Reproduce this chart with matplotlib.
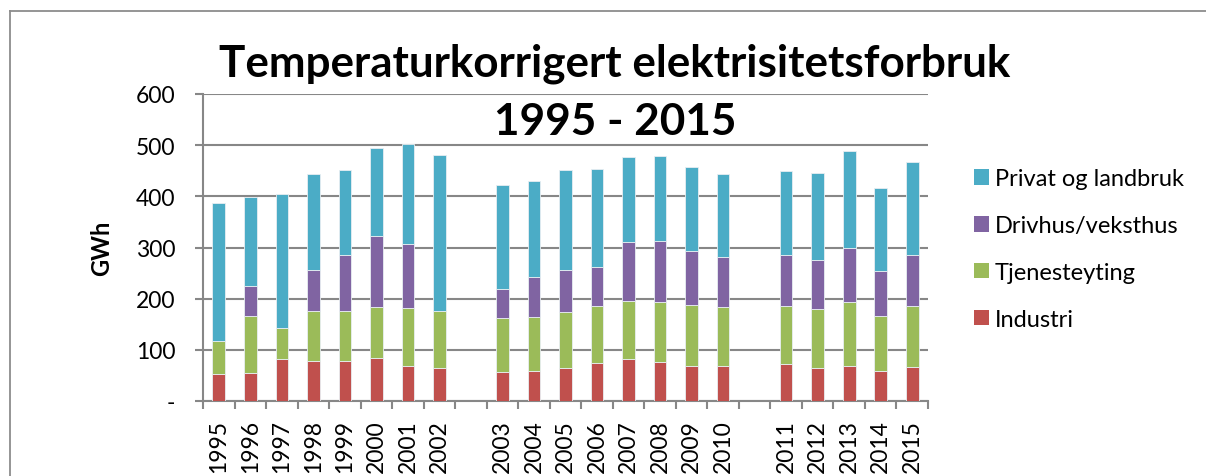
import numpy as np
import matplotlib
matplotlib.use("Agg")
import matplotlib.pyplot as plt
from matplotlib.lines import Line2D
from matplotlib.patches import Patch

plt.rcParams['font.family'] = ['Lato', 'DejaVu Sans']

# ---- data (GWh) ; None = empty gap slot in the category axis ----
categories = ['1995', '1996', '1997', '1998', '1999', '2000', '2001', '2002', '',
              '2003', '2004', '2005', '2006', '2007', '2008', '2009', '2010', '',
              '2011', '2012', '2013', '2014', '2015']
industri = [52, 54, 82, 79, 79, 85, 68, 65, None,
            57, 58, 65, 75, 82, 77, 68, 68, None,
            72, 64, 69, 59, 67]
tjenesteyting = [66, 112, 60, 97, 97, 98, 114, 111, None,
                 106, 106, 109, 110, 113, 117, 120, 115, None,
                 114, 115, 125, 108, 119]
drivhus = [0, 58, 0, 80, 110, 140, 124, 0, None,
           55, 78, 83, 76, 116, 118, 105, 98, None,
           100, 97, 105, 88, 100]
privat = [268, 175, 263, 188, 166, 171, 196, 304, None,
          204, 187, 194, 193, 166, 167, 165, 163, None,
          163, 170, 189, 161, 181]
series_names = ['Industri', 'Tjenesteyting', 'Drivhus/veksthus', 'Privat og landbruk']
series_colors = ['#C0504D', '#9BBB59', '#8064A2', '#4BACC6']
yticks = [0, 100, 200, 300, 400, 500, 600]
yticklabels = ['-', '100', '200', '300', '400', '500', '600']

W, H = 1206, 477
fig = plt.figure(figsize=(W / 100, H / 100), dpi=100)
ax = fig.add_axes([203 / W, 1 - 402 / H, (928 - 203) / W, (402 - 95) / H])

x = np.arange(len(categories))
bottom = np.zeros(len(categories))
grid_c = '#878787'
for vals, name, col in zip([industri, tjenesteyting, drivhus, privat], series_names, series_colors):
    v = np.array([np.nan if a is None else a for a in vals], dtype=float)
    ax.bar(x, v, width=0.40, bottom=bottom, color=col, edgecolor='#e8eef2',
           linewidth=0.6, zorder=3)
    bottom = bottom + np.nan_to_num(v)

ax.set_xlim(-0.5, len(categories) - 0.5)
ax.set_ylim(0, 600)
ax.set_yticks(yticks)
ax.set_yticklabels(yticklabels)
ax.yaxis.grid(True, color=grid_c, linewidth=1.5, zorder=0)
ax.set_axisbelow(True)

ax.set_xticks(x)
ax.set_xticklabels(categories, rotation=90, va='top', ha='center')
ax.set_xticks(np.arange(-0.5, len(categories)), minor=True)
ax.tick_params(axis='x', which='major', length=0, pad=13, labelsize=16.5)
ax.tick_params(axis='x', which='minor', length=6, width=1.5, color=grid_c)
ax.tick_params(axis='y', length=6, width=1.5, color=grid_c, pad=14, labelsize=16.5)

for s in ['top', 'right']:
    ax.spines[s].set_visible(False)
for s in ['left', 'bottom']:
    ax.spines[s].set_color(grid_c)
    ax.spines[s].set_linewidth(1.5)

fig.text(102 / W, 1 - 248 / H, 'GWh', rotation=90, ha='center', va='center',
         fontsize=17, fontweight='bold')

# title (two lines)
fig.text(615 / W, 1 - 77 / H, 'Temperaturkorrigert elektrisitetsforbruk',
         ha='center', va='baseline', fontsize=31.7, fontweight='bold')
fig.text(615 / W, 1 - 135 / H, '1995 - 2015',
         ha='center', va='baseline', fontsize=31.7, fontweight='bold')

handles = [Patch(facecolor=c, edgecolor='none') for c in series_colors[::-1]]
leg = fig.legend(handles, series_names[::-1], loc='upper left',
                 bbox_to_anchor=(964.5 / W, 1 - 160 / H), frameon=False,
                 fontsize=17, handlelength=0.64, handleheight=0.64,
                 handletextpad=0.25, labelspacing=1.09, borderaxespad=0)

# chart-area border (left and top visible)
fig.add_artist(Line2D([10 / W, 10 / W], [0, 1 - 12 / H], transform=fig.transFigure,
                      color='#8c8c8c', linewidth=1.3))
fig.add_artist(Line2D([10 / W, 1], [1 - 12 / H, 1 - 12 / H], transform=fig.transFigure,
                      color='#8c8c8c', linewidth=1.3))

fig.savefig('out.png', dpi=100)
